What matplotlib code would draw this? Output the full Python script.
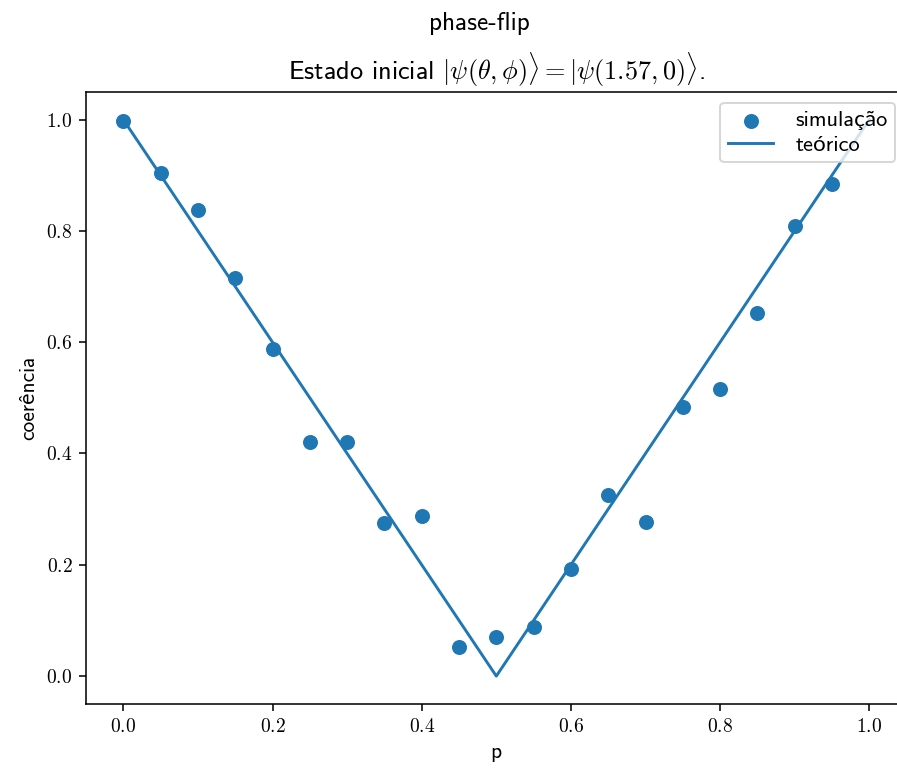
import matplotlib
matplotlib.use("Agg")
import matplotlib.pyplot as plt
from matplotlib.ticker import FuncFormatter

plt.rcParams['font.family'] = ['cmss10', 'Lato', 'DejaVu Sans']
plt.rcParams['mathtext.fontset'] = 'cm'
plt.rcParams['axes.unicode_minus'] = False

# simulated coherence vs p
p_sim = [0.0, 0.05, 0.10, 0.15, 0.20, 0.25, 0.30, 0.35, 0.40, 0.45,
         0.50, 0.55, 0.60, 0.65, 0.70, 0.75, 0.80, 0.85, 0.90, 0.95]
c_sim = [0.997, 0.904, 0.837, 0.716, 0.588, 0.421, 0.421, 0.275, 0.287, 0.052,
         0.070, 0.088, 0.192, 0.326, 0.277, 0.484, 0.516, 0.653, 0.808, 0.885]

# theoretical curve
p_theo = [0.0, 0.5, 1.0]
c_theo = [1.0, 0.0, 1.0]

fig = plt.figure(figsize=(897 / 140, 771 / 140), dpi=140)
ax = fig.add_axes([0.0959, 0.087, 0.9148, 0.794])

ax.scatter(p_sim, c_sim, s=45, label='simulação')
ax.plot(p_theo, c_theo, label='teórico')

fmt = FuncFormatter(lambda v, pos: f'${v:.1f}$')
ax.xaxis.set_major_formatter(fmt)
ax.yaxis.set_major_formatter(fmt)
ax.set_xticks([0.0, 0.2, 0.4, 0.6, 0.8, 1.0])
ax.set_yticks([0.0, 0.2, 0.4, 0.6, 0.8, 1.0])
ax.set_xlim(-0.05, 1.05)
ax.set_ylim(-0.05, 1.05)

ax.set_xlabel('p', fontsize=11)
ax.set_ylabel('coerência', fontsize=11)
ax.set_title(r'Estado inicial $|\psi(\theta, \phi)\rangle = |\psi(1.57, 0)\rangle$.',
             fontsize=13.5)
fig.suptitle('phase-flip', x=0.534, y=0.985, fontsize=13)
ax.legend(loc='upper right', fontsize=11.5, labelspacing=0.2, borderpad=0.35,
          handletextpad=1.0)

fig.savefig('out.png', dpi=140)
